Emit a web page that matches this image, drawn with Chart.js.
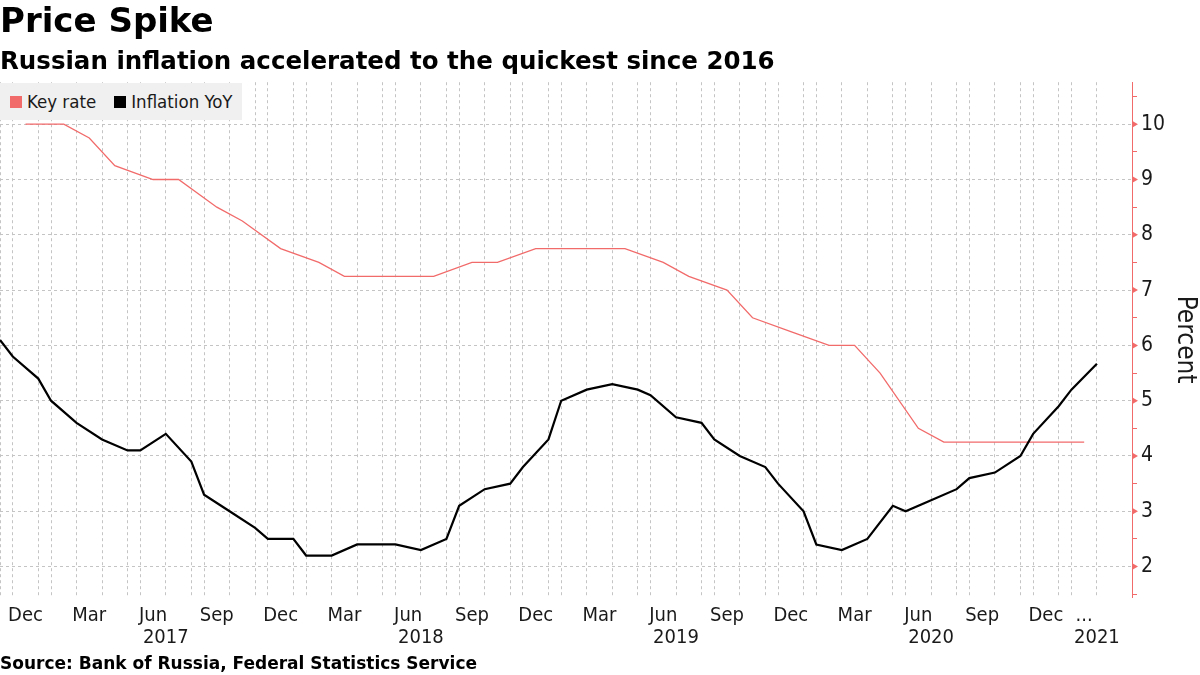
<!DOCTYPE html>
<html><head><meta charset="utf-8">
<script src="https://cdn.jsdelivr.net/npm/chart.js@4.4.1/dist/chart.umd.min.js"></script>
<style>
html,body{margin:0;padding:0;background:#fff;}
#wrap{position:relative;width:1200px;height:675px;overflow:hidden;}
#source{position:absolute;left:0;top:653px;font:bold 17px 'DejaVu Sans',sans-serif;line-height:20px;color:#000;white-space:nowrap;}
#legend{position:absolute;background:#f0f0f0;height:37px;display:flex;align-items:center;padding:0 9px 0 10px;box-sizing:border-box;
  font:18.5px 'DejaVu Sans Condensed','DejaVu Sans',sans-serif;color:#1a1a1a;white-space:nowrap;}
#legend .item{display:flex;align-items:center;margin-right:18px;}
#legend .item:last-child{margin-right:0;}
#legend .sw{width:12px;height:12px;margin-right:5px;display:inline-block;}
</style></head><body>
<div id="wrap"><canvas id="c" width="1200" height="675"></canvas><div id="legend"></div><div id="source">Source: Bank of Russia, Federal Statistics Service</div></div>
<script>
// ---- data ----
const inflationDates = [
'2016-10-31','2016-11-30','2016-12-31',
'2017-01-31','2017-02-28','2017-03-31','2017-04-30','2017-05-31','2017-06-30','2017-07-31','2017-08-31','2017-09-30','2017-10-31','2017-11-30','2017-12-31',
'2018-01-31','2018-02-28','2018-03-31','2018-04-30','2018-05-31','2018-06-30','2018-07-31','2018-08-31','2018-09-30','2018-10-31','2018-11-30','2018-12-31',
'2019-01-31','2019-02-28','2019-03-31','2019-04-30','2019-05-31','2019-06-30','2019-07-31','2019-08-31','2019-09-30','2019-10-31','2019-11-30','2019-12-31',
'2020-01-31','2020-02-29','2020-03-31','2020-04-30','2020-05-31','2020-06-30','2020-07-31','2020-08-31','2020-09-30','2020-10-31','2020-11-30','2020-12-31',
'2021-01-31','2021-02-28'];
const inflationValues = [6.1,5.8,5.4,
5.0,4.6,4.3,4.1,4.1,4.4,3.9,3.3,3.0,2.7,2.5,2.5,
2.2,2.2,2.4,2.4,2.4,2.3,2.5,3.1,3.4,3.5,3.8,4.3,
5.0,5.2,5.3,5.2,5.1,4.7,4.6,4.3,4.0,3.8,3.5,3.0,
2.4,2.3,2.5,3.1,3.0,3.2,3.4,3.6,3.7,4.0,4.4,4.9,
5.2,5.67];
const keyRateDates = [
'2016-12-16',
'2017-02-03','2017-03-24','2017-04-28','2017-06-16','2017-07-28','2017-09-15','2017-10-27','2017-12-15',
'2018-02-09','2018-03-23','2018-04-27','2018-06-15','2018-07-27','2018-09-14','2018-10-26','2018-12-14',
'2019-02-08','2019-03-22','2019-04-26','2019-06-14','2019-07-26','2019-09-06','2019-10-25','2019-12-13',
'2020-02-07','2020-03-20','2020-04-24','2020-06-19','2020-07-24','2020-09-18','2020-10-23','2020-12-18',
'2021-02-12'];
const keyRateValues = [10.0,
10.0,9.75,9.25,9.0,9.0,8.5,8.25,7.75,
7.5,7.25,7.25,7.25,7.25,7.5,7.5,7.75,
7.75,7.75,7.75,7.5,7.25,7.0,6.5,6.25,
6.0,6.0,5.5,4.5,4.25,4.25,4.25,4.25,
4.25];
const yTickValues = [2,3,4,5,6,7,8,9,10];
const monthNames = ['Jan','Feb','Mar','Apr','May','Jun','Jul','Aug','Sep','Oct','Nov','Dec'];
const quarterMonths = ['Mar','Jun','Sep','Dec'];
const ellipsisLabel = '...';
const seriesNames = ['Key rate','Inflation YoY'];

// ---- derived ----
const categories = [...inflationDates, ...keyRateDates].sort();
const catIndex = Object.fromEntries(categories.map((d,i)=>[d,i]));
const isInflationDate = categories.map(d => inflationDates.includes(d));
const monthOf = d => monthNames[parseInt(d.slice(5,7),10)-1];
function monthTickLabel(i){
  const d = categories[i]; if(!d) return '';
  if (keyRateDates.includes(d) && quarterMonths.includes(monthOf(d))) return monthOf(d);
  if (d === keyRateDates[keyRateDates.length-1]) return ellipsisLabel;
  return '';
}
function yearTickLabel(i){
  const d = categories[i]; if(!d) return '';
  if (d.slice(5) === '06-30' || i === categories.length-1) return d.slice(0,4);
  return '';
}
const yAllTicks = yTickValues.flatMap(v=>[v-0.5, v]).concat([yTickValues[yTickValues.length-1]+0.5]);
const catTicks = () => categories.map((_,i)=>({value:i}));
const isMajor = ctx => ctx.tick && Number.isInteger(ctx.tick.value);

const FAM = "'DejaVu Sans Condensed','DejaVu Sans',sans-serif";
Chart.defaults.font.family = FAM;
Chart.defaults.color = '#1a1a1a';

const RED = '#f26b6b';
const GRID = '#c4c4c4';
const CLEAR = 'rgba(0,0,0,0)';

// major tick markers (small triangles) on the right axis, placed by the y scale
const tickMarkers = { id:'tickMarkers', afterDraw(chart){
  const s = chart.scales.y; const ctx = chart.ctx; ctx.save(); ctx.fillStyle = RED;
  s.ticks.forEach(t=>{ if(!Number.isInteger(t.value)) return;
    const y = s.getPixelForValue(t.value), x = s.left;
    ctx.beginPath(); ctx.moveTo(x, y-3.5); ctx.lineTo(x+6, y); ctx.lineTo(x, y+3.5); ctx.closePath(); ctx.fill(); });
  ctx.restore();
}};

const chart = new Chart(document.getElementById('c'), {
  type:'line',
  data:{ datasets:[
    { label:seriesNames[0], data:keyRateDates.map((d,i)=>({x:catIndex[d], y:keyRateValues[i]})),
      borderColor:RED, backgroundColor:RED, borderWidth:1.3, pointRadius:0, tension:0, order:1 },
    { label:seriesNames[1], data:inflationDates.map((d,i)=>({x:catIndex[d], y:inflationValues[i]})),
      borderColor:'#000', backgroundColor:'#000', borderWidth:2.2, pointRadius:0, tension:0, order:0 }
  ]},
  options:{
    responsive:false, animation:false, devicePixelRatio:1,
    layout:{ padding:{ left:0, right:0, top:0, bottom:24 } },
    plugins:{
      title:{ display:true, text:'Price Spike', align:'start', color:'#000',
        font:{ family:"'DejaVu Sans',sans-serif", size:34, weight:'bold' }, padding:{ top:3, bottom:4 } },
      subtitle:{ display:true, text:'Russian inflation accelerated to the quickest since 2016', align:'start', color:'#000',
        font:{ family:"'DejaVu Sans',sans-serif", size:24.5, weight:'bold' }, padding:{ top:0, bottom:5 } },
      legend:{ display:false },
      tooltip:{ enabled:false }
    },
    scales:{
      x:{ type:'linear', axis:'x', position:'bottom', min:0, max:categories.length-1+2.75, bounds:'data',
        afterBuildTicks:s=>{ s.ticks = catTicks(); },
        afterFit:s=>{ s.height = 29; },
        grid:{ color:ctx=> (ctx.tick && isInflationDate[ctx.tick.value]) ? GRID : CLEAR, lineWidth:1,
          drawTicks:true, tickLength:7, tickColor:CLEAR },
        border:{ display:false, dash:[3,3] },
        ticks:{ autoSkip:false, maxRotation:0, minRotation:0, padding:0, font:{ size:20 }, color:'#1a1a1a',
          callback:v=>monthTickLabel(v) } },
      x2:{ type:'linear', axis:'x', position:'bottom', min:0, max:categories.length-1+2.75, bounds:'data',
        afterBuildTicks:s=>{ s.ticks = catTicks(); },
        afterFit:s=>{ s.height = 25; },
        grid:{ display:false, drawTicks:false }, border:{ display:false },
        ticks:{ autoSkip:false, maxRotation:0, minRotation:0, padding:0, font:{ size:20 }, color:'#1a1a1a',
          callback:v=>yearTickLabel(v) } },
      y:{ type:'linear', position:'right', min:1.45, max:10.76, bounds:'data',
        afterBuildTicks:s=>{ s.ticks = yAllTicks.map(v=>({value:v})); },
        afterFit:s=>{ s.width = 68; },
        grid:{ color:ctx=> isMajor(ctx) ? GRID : CLEAR,
          tickColor:ctx=> isMajor(ctx) ? CLEAR : RED, tickLength:5, tickWidth:1 },
        border:{ display:true, color:RED, width:1, dash:[3,3] },
        ticks:{ padding:4, font:{ size:21 }, color:'#1a1a1a', callback:v=> Number.isInteger(v) ? String(v) : '' },
        title:{ display:true, text:'Percent', color:'#1a1a1a', font:{ size:26 }, padding:{ top:0, bottom:0 } } }
    }
  },
  plugins:[tickMarkers]
});

// HTML legend built from the chart's datasets, placed at the chart area's top-left
(function(){
  const lg = document.getElementById('legend');
  const ca = chart.chartArea;
  lg.style.left = ca.left + 'px'; lg.style.top = (ca.top + 1) + 'px';
  chart.data.datasets.forEach(ds=>{
    const it = document.createElement('div'); it.className='item';
    const sw = document.createElement('span'); sw.className='sw'; sw.style.background = ds.backgroundColor;
    const tx = document.createElement('span'); tx.textContent = ds.label;
    it.appendChild(sw); it.appendChild(tx); lg.appendChild(it);
  });
})();
</script>
</body></html>
